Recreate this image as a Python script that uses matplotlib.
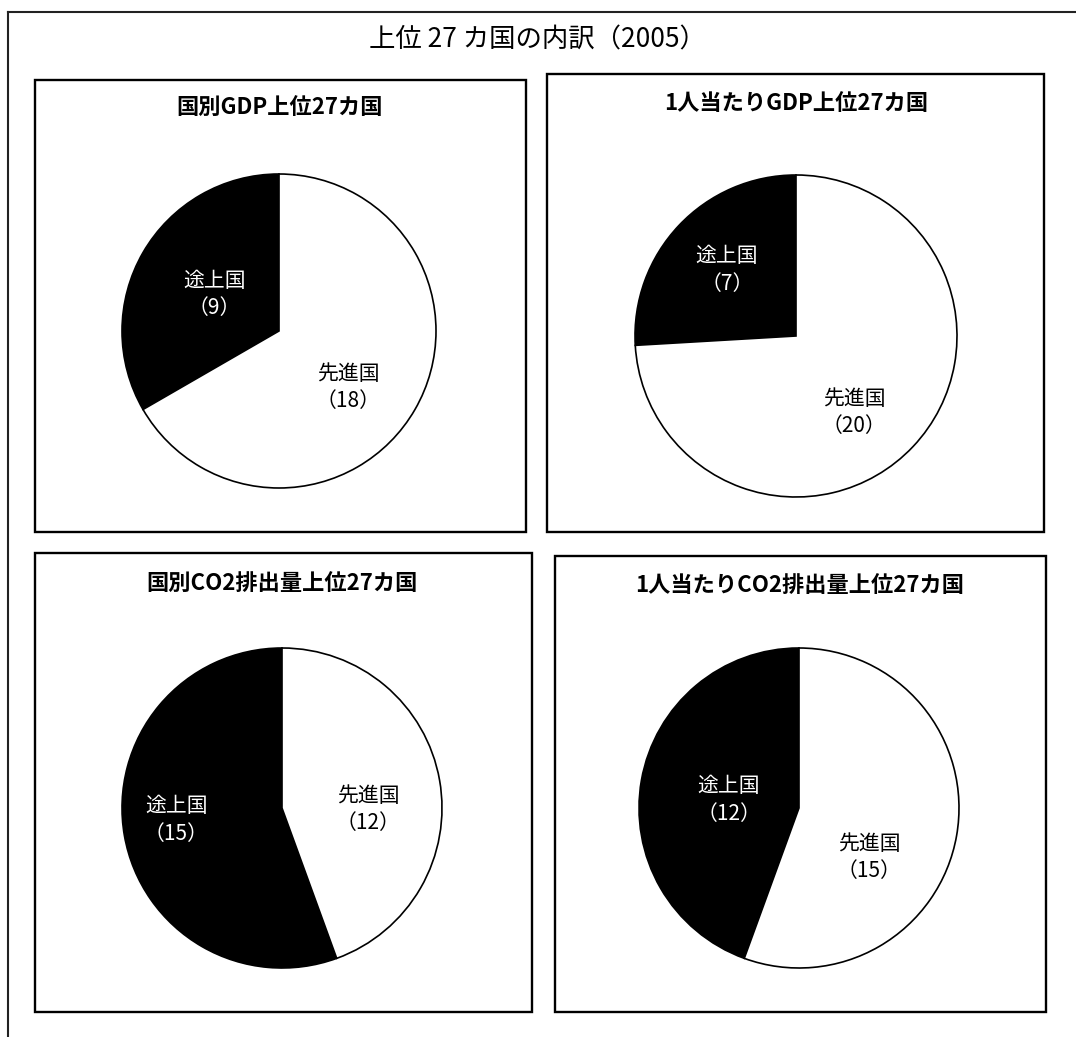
import matplotlib.pyplot as plt
from matplotlib.patches import Rectangle
from matplotlib.lines import Line2D

plt.rcParams['font.family'] = ['Noto Sans CJK JP', 'DejaVu Sans']

# data
main_title = '上位 27 カ国の内訳（2005）'
chart_titles = ['国別GDP上位27カ国', '1人当たりGDP上位27カ国',
                '国別CO2排出量上位27カ国', '1人当たりCO2排出量上位27カ国']
categories = ['途上国', '先進国']
developing = [9, 7, 15, 12]
developed = [18, 20, 12, 15]

# layout in pixels (y measured from the top)
W, H = 1076, 1037
frames = [(35, 80, 526, 532), (547, 74, 1044, 532),
          (35, 553, 532, 1012), (555, 556, 1046, 1012)]
title_pos = [(280, 107), (796, 104), (282, 583), (800, 585)]
pie_geom = [(279, 331, 157), (796, 336, 161), (282, 808, 160), (799, 808, 160)]
# label anchors in pie units (radius = 1)
label_pos = [[(-0.41, 0.23), (0.44, -0.36)],
             [(-0.43, 0.41), (0.36, -0.475)],
             [(-0.66, -0.075), (0.54, -0.01)],
             [(-0.44, 0.05), (0.44, -0.31)]]

fig = plt.figure(figsize=(W / 100, H / 100), dpi=100)


def fx(x):
    return x / W


def fy(y):
    return 1 - y / H


# outer frame: only the top and left edges are visible
fig.add_artist(Line2D([fx(8), fx(8)], [0, fy(12)], color='#222222', lw=1.5))
fig.add_artist(Line2D([fx(8), 1], [fy(12), fy(12)], color='#222222', lw=1.5))

fig.text(fx(537), fy(40), main_title, ha='center', va='center', fontsize=19)

for i in range(4):
    l, t, r, b = frames[i]
    fig.add_artist(Rectangle((fx(l), fy(b)), (r - l) / W, (b - t) / H,
                             transform=fig.transFigure, fill=False,
                             ec='black', lw=1.7))
    fig.text(fx(title_pos[i][0]), fy(title_pos[i][1]), chart_titles[i],
             ha='center', va='center', fontsize=16, fontweight='bold')

    cx, cy, rad = pie_geom[i]
    m = rad * 1.05
    ax = fig.add_axes([fx(cx - m), fy(cy + m), 2 * m / W, 2 * m / H])
    vals = [developing[i], developed[i]]
    labels = [f'{c}\n（{v}）' for c, v in zip(categories, vals)]
    wedges, texts = ax.pie(vals, colors=['black', 'white'], startangle=90,
                           counterclock=True, labels=labels,
                           wedgeprops=dict(edgecolor='black', linewidth=1.2),
                           textprops=dict(fontsize=15, ha='center', va='center',
                                          linespacing=1.3))
    for j, txt in enumerate(texts):
        txt.set_position(label_pos[i][j])
        txt.set_color('white' if j == 0 else 'black')
    ax.set_xlim(-1.05, 1.05)
    ax.set_ylim(-1.05, 1.05)
    ax.axis('off')

fig.savefig('out.png', dpi=100, facecolor='white')
